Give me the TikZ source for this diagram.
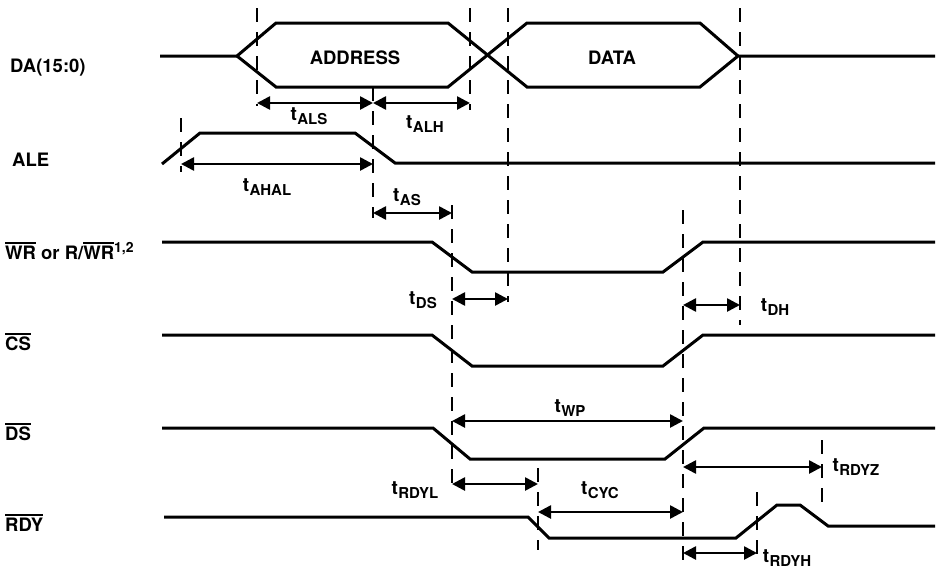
\documentclass[tikz,border=0pt]{standalone}
\usepackage{fontspec}
\setmainfont{TeX Gyre Heros}
\usetikzlibrary{arrows.meta}
% bar over an active-low signal name
\newcommand{\ovl}[1]{\begingroup\setbox0\hbox{#1}\rlap{\rule[\dimexpr\ht0+1.6pt\relax]{\wd0}{1.8pt}}\box0\endgroup}
% timing parameter: t with a lowered subscript
\newcommand{\tsub}[1]{t\kern0.4pt\raisebox{-4.5pt}{\fontsize{15}{15}\selectfont #1}}
\begin{document}
\begin{tikzpicture}[x=1pt,y=-1pt,
  sig/.style={line width=3pt, line join=miter},
  guide/.style={line width=2.8pt, dash pattern=on 14pt off 10pt},
  dim/.style={line width=2.6pt, {Triangle[length=13pt,width=13pt]}-{Triangle[length=13pt,width=13pt]}},
  signame/.style={font=\fontsize{18.5}{20}\selectfont\bfseries, anchor=base west, inner sep=0pt},
  tlab/.style={font=\fontsize{19}{20}\selectfont\bfseries, inner sep=0pt},
  buslab/.style={font=\fontsize{18.5}{20}\selectfont\bfseries, inner sep=0pt}]
\useasboundingbox (0,0) rectangle (937,570);

% ---------- signal names ----------
\node[signame] (nDA)  at (10,72)  {DA(15:0)};
\node[signame] (nALE) at (12,166) {ALE};
\node[signame] (nWR)  at (5,259)  {\ovl{WR} or R/\ovl{WR}\raisebox{7pt}{\fontsize{14}{14}\selectfont 1,2}};
\node[signame] (nCS)  at (5,350)  {\ovl{CS}};
\node[signame] (nDS)  at (5,440)  {\ovl{DS}};
\node[signame] (nRDY) at (5,531)  {\ovl{RDY}};

% ---------- waveforms ----------
% DA(15:0): address and data phases
\draw[sig] (160,56) -- (237,56) -- (276,23) -- (448,23) -- (527,87) -- (700,87) -- (738,56) -- (935,56);
\draw[sig] (237,56) -- (276,87) -- (448,87) -- (527,23) -- (700,23) -- (738,56);
\node[buslab] (lAddr) at (355,58) {ADDRESS};
\node[buslab] (lData) at (612,58) {DATA};
% ALE
\draw[sig] (162,164) -- (200,133) -- (355,133) -- (395,163) -- (935,163);
% WR or R/WR
\draw[sig] (162,242) -- (432,242) -- (472,272) -- (663,272) -- (703,242) -- (935,242);
% CS
\draw[sig] (162,335) -- (432,335) -- (472,366) -- (663,366) -- (703,335) -- (935,335);
% DS
\draw[sig] (162,428) -- (433,428) -- (470,459) -- (665,459) -- (704,428) -- (935,428);
% RDY
\draw[sig] (164,517) -- (528,517) -- (549,538) -- (736,538) -- (777,505) -- (800,505) -- (828,526) -- (935,526);

% ---------- reference lines ----------
\coordinate (gA1) at (257,8);   \coordinate (gA2) at (257,106);
\coordinate (gB1) at (470,8);   \coordinate (gB2) at (470,110);
\coordinate (gC1) at (508,8);   \coordinate (gC2) at (508,302);
\coordinate (gD1) at (740,8);   \coordinate (gD2) at (740,325);
\coordinate (gE1) at (373,87);  \coordinate (gE2) at (373,218);
\coordinate (gF1) at (181,118); \coordinate (gF2) at (181,172);
\coordinate (gG1) at (452,205); \coordinate (gG2) at (452,490);
\coordinate (gH1) at (683,210); \coordinate (gH2) at (683,566);
\coordinate (gI1) at (538,468); \coordinate (gI2) at (538,550);
\coordinate (gJ1) at (757,492); \coordinate (gJ2) at (757,562);
\coordinate (gK1) at (822,440); \coordinate (gK2) at (822,512);
\foreach \g in {A,B,C,D,E,F,G,H,I,J,K}
  \draw[guide] (g\g1) -- (g\g2);

% ---------- timing arrows ----------
\coordinate (als1) at (257,103); \coordinate (als2) at (373,103);
\coordinate (alh1) at (373,103); \coordinate (alh2) at (470,103);
\coordinate (ahl1) at (181,164); \coordinate (ahl2) at (373,164);
\coordinate (as1)  at (373,213); \coordinate (as2)  at (452,213);
\coordinate (ds1)  at (452,299); \coordinate (ds2)  at (508,299);
\coordinate (dh1)  at (683,305); \coordinate (dh2)  at (740,305);
\coordinate (wp1)  at (452,421); \coordinate (wp2)  at (683,421);
\coordinate (rz1)  at (683,467); \coordinate (rz2)  at (822,467);
\coordinate (rl1)  at (452,484); \coordinate (rl2)  at (538,484);
\coordinate (cy1)  at (538,512); \coordinate (cy2)  at (683,512);
\coordinate (rh1)  at (683,553); \coordinate (rh2)  at (757,553);
\foreach \a in {als,alh,ahl,as,ds,dh,wp,rz,rl,cy,rh}
  \draw[dim] (\a1) -- (\a2);

% ---------- timing labels ----------
\node[tlab] (tALS)  at (309,116) {\tsub{ALS}};
\node[tlab] (tALH)  at (425,124) {\tsub{ALH}};
\node[tlab] (tAHAL) at (267,187) {\tsub{AHAL}};
\node[tlab] (tAS)   at (407,197) {\tsub{AS}};
\node[tlab] (tDS)   at (423,300) {\tsub{DS}};
\node[tlab] (tDH)   at (775,307) {\tsub{DH}};
\node[tlab] (tWP)   at (570,408) {\tsub{WP}};
\node[tlab] (tRDYL) at (415,490) {\tsub{RDYL}};
\node[tlab] (tCYC)  at (600,490) {\tsub{CYC}};
\node[tlab] (tRDYZ) at (856,467) {\tsub{RDYZ}};
\node[tlab] (tRDYH) at (787,558) {\tsub{RDYH}};
\end{tikzpicture}
\end{document}
